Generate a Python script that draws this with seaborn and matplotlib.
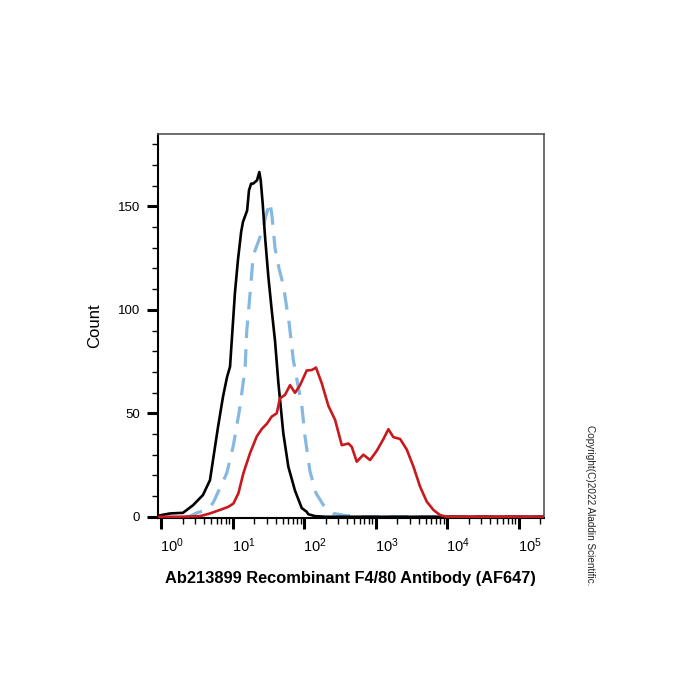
import numpy as np
import pandas as pd
import matplotlib
matplotlib.use("Agg")
import matplotlib.pyplot as plt
import matplotlib.transforms as mtransforms
from matplotlib.ticker import LogLocator, MultipleLocator, NullFormatter
import seaborn as sns

# Intensidad (eje x, escala log) y conteos
negro_x = [0.91, 1.34, 2.03, 2.81, 3.86, 4.84, 6.27, 7.36, 8.38, 9.23, 9.84, 10.8,
           11.9, 13.2, 14.0, 16.0, 17.0, 18.2, 19.4, 22.0, 23.7, 24.8, 26.4, 28.5,
           31.7, 35.3, 39.3, 43.8, 51.3, 60.3, 74.8, 92.9, 109, 115, 143, 200, 223000]
negro_y = [0.5, 1.6, 1.9, 5.6, 10.5, 17.7, 43.4, 58, 67.5, 72.5, 87, 108,
           124, 137.6, 142.5, 148, 157.8, 161, 161, 162.6, 166.6, 162.6, 151.5, 135.3,
           116, 100, 85, 64.6, 40.4, 24.2, 12.6, 4.2, 2.4, 1.2, 0.3, 0, 0]

azul_x = [2.2, 2.55, 3.18, 3.86, 4.54, 5.33, 6.68, 8.30, 10.3, 12.7, 15.0, 15.8,
          17.6, 19.5, 23.0, 26.7, 29.4, 33.4, 35.6, 39.3, 44.7, 51.3, 62.2, 70.8,
          79.8, 92.9, 103, 121, 147, 186, 257, 374, 708, 223000]
azul_y = [0, 0.3, 1.9, 2.8, 4.1, 6.6, 13.9, 21, 34.6, 53, 72, 89.5,
          108, 126.4, 133, 139.5, 145.6, 152, 145.6, 129.8, 120, 112, 93, 75.7,
          66, 54, 39, 22, 11.4, 5.7, 1.6, 0.6, 0, 0]

rojo_x = [0.91, 1.85, 3.51, 4.84, 7.06, 8.73, 10.3, 12.1, 14.2, 17.6, 21.8, 25.6,
          30.1, 35.3, 41.5, 46.1, 54.2, 63.7, 74.8, 87.9, 109, 128, 147, 177,
          219, 272, 337, 417, 465, 546, 676, 838, 1040, 1285, 1510, 1774,
          2203, 2729, 3381, 4188, 5200, 6442, 7980, 9910, 223000]
rojo_y = [0, 0, 0.3, 1.6, 3.6, 4.8, 6.4, 11.4, 21.1, 30.8, 38.8, 42.4,
          44.9, 48.4, 50, 57.3, 58.9, 63.6, 59.9, 63.6, 70.7, 70.9, 72.1, 64.5,
          53.6, 46.8, 34.6, 35.4, 33.8, 26.6, 30, 27.4, 31.9, 37.5, 42.3, 38.5,
          37.6, 32.5, 24.3, 14.6, 7.3, 3.3, 0.8, 0, 0]

etiquetas_x = ['$\\mathregular{10^{%d}}$' % i for i in range(6)]
valores_x = [1, 10, 100, 1000, 10000, 100000]
valores_y = [0, 50, 100, 150]

sns.set_style("ticks")
plt.rcParams['font.family'] = ['Liberation Sans', 'DejaVu Sans']
plt.rcParams['text.color'] = 'black'
plt.rcParams['axes.labelcolor'] = 'black'
plt.rcParams['xtick.color'] = 'black'
plt.rcParams['ytick.color'] = 'black'

fig = plt.figure(figsize=(7, 7), dpi=100)
ax = fig.add_axes([158 / 700, 1 - 518 / 700, (543.5 - 158) / 700, (518 - 134) / 700])

df_negro = pd.DataFrame({'x': negro_x, 'y': negro_y})
df_azul = pd.DataFrame({'x': azul_x, 'y': azul_y})
df_rojo = pd.DataFrame({'x': rojo_x, 'y': rojo_y})

sns.lineplot(data=df_negro, x='x', y='y', ax=ax, color='black', lw=1.9,
             estimator=None, sort=False, zorder=3)
sns.lineplot(data=df_azul, x='x', y='y', ax=ax, color='#86b9e1', lw=2.3,
             linestyle=(0, (5.5, 3.5)), estimator=None, sort=False, zorder=2)
sns.lineplot(data=df_rojo, x='x', y='y', ax=ax, color='#c81a1e', lw=1.9,
             estimator=None, sort=False, zorder=4)

ax.set_xscale('log')
ax.set_xlim(0.908, 223000)
ax.set_ylim(-0.6, 185)

ax.set_xticks(valores_x)
ax.set_xticklabels(etiquetas_x, fontsize=10.5)
ax.xaxis.set_minor_locator(LogLocator(base=10, subs=np.arange(2, 10), numticks=100))
ax.xaxis.set_minor_formatter(NullFormatter())
ax.set_yticks(valores_y)
ax.set_yticklabels([str(v) for v in valores_y], fontsize=9.5)
ax.yaxis.set_minor_locator(MultipleLocator(10))

ax.tick_params(which='major', length=8, width=2.2, color='black', direction='out', pad=5)
ax.tick_params(which='minor', length=4, width=1, color='black', direction='out')
ax.tick_params(axis='x', which='major', pad=5)

# las etiquetas del eje x quedan un poco a la derecha de cada marca
desplaza = mtransforms.ScaledTranslation(11 / 100, 0, fig.dpi_scale_trans)
for etq in ax.get_xticklabels():
    etq.set_transform(etq.get_transform() + desplaza)

for lado in ['top', 'right']:
    ax.spines[lado].set_color('#555555')
    ax.spines[lado].set_linewidth(1.2)
for lado in ['left', 'bottom']:
    ax.spines[lado].set_color('black')
    ax.spines[lado].set_linewidth(1.5)

ax.set_xlabel('Ab213899 Recombinant F4/80 Antibody (AF647)', fontsize=11.8,
              fontweight='bold', labelpad=12)
ax.set_ylabel('Count', fontsize=12, labelpad=11)

fig.text(590 / 700, 1 - 505 / 700, 'Copyright(C)2022 Aladdin Scientific.',
         rotation=-90, fontsize=7.2, ha='center', va='center', color='#222222')

plt.savefig('out.png', dpi=100)
